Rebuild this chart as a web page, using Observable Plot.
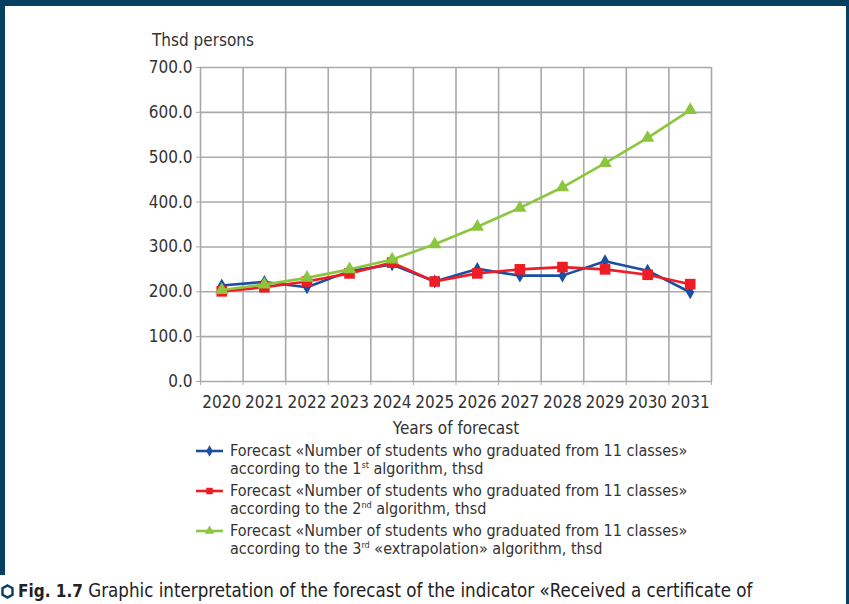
<!DOCTYPE html>
<html>
<head>
<meta charset="utf-8">
<script src="https://cdn.jsdelivr.net/npm/d3@7"></script>
<script src="https://cdn.jsdelivr.net/npm/@observablehq/plot@0.6"></script>
<style>
  html, body { margin: 0; padding: 0; background: #fff; }
  body { width: 849px; height: 604px; position: relative; overflow: hidden;
         font-family: "DejaVu Sans Condensed", "Liberation Sans Narrow", "Roboto Condensed", sans-serif;
         font-stretch: condensed; color: #333; }
  .frame-top { position: absolute; left: 0; top: 0; width: 849px; height: 6px; background: #073f61; }
  .frame-left { position: absolute; left: 0; top: 0; width: 5px; height: 575px; background: #073f61; }
  .frame-right { position: absolute; left: 846px; top: 0; width: 3px; height: 604px; background: #073f61; }
  #chart { position: absolute; left: 0; top: 0; }
  .lab { position: absolute; font-size: 17px; color: #333; white-space: nowrap; }
  #legend { position: absolute; left: 195px; top: 442px; font-size: 16px; color: #333; }
  .item { position: relative; padding-left: 35px; line-height: 18px; margin-bottom: 4px; }
  .item svg { position: absolute; left: 0; top: 1px; }
  .item sup { font-size: 9px; vertical-align: 6px; line-height: 0; }
  #caption { position: absolute; left: 1px; top: 580px; font-size: 18.6px; color: #222; white-space: nowrap; }
  #caption b { font-size: 17px; }
  #caption svg { vertical-align: -2px; margin-right: 4px; }
</style>
</head>
<body>
<div class="frame-top"></div>
<div class="frame-left"></div>
<div class="frame-right"></div>
<div id="chart"></div>
<div class="lab" style="left:152px; top:30px;">Thsd persons</div>
<div class="lab" id="xlab" style="left:456px; top:418px; transform: translateX(-50%);">Years of forecast</div>
<div id="legend"></div>
<div id="caption"><svg width="13" height="15" viewBox="0 0 13 15"><polygon points="6.5,1.5 11.5,4.3 11.5,10.7 6.5,13.5 1.5,10.7 1.5,4.3" fill="none" stroke="#073f61" stroke-width="2.4"/></svg><b>Fig. 1.7</b> Graphic interpretation of the forecast of the indicator «Received a certificate of</div>
<script>
// ---- data ----
const years = [2020, 2021, 2022, 2023, 2024, 2025, 2026, 2027, 2028, 2029, 2030, 2031];
const alg1 = [214, 222, 210, 246, 261, 223, 251, 236, 236, 268, 247, 199];
const alg2 = [201, 210, 223, 241, 265, 223, 241, 250, 255, 250, 238, 217];
const alg3 = [204, 216, 231, 250, 272, 306, 345, 387, 433, 487, 543, 605];
const yTicks = [0, 100, 200, 300, 400, 500, 600, 700];
const seriesNames = ["alg1", "alg2", "alg3"];
const seriesColors = ["#1b4f9f", "#ee1d25", "#8cc63f"];
const seriesSymbols = ["diamond", "square", "triangle"];
const legendLines = [
  ["Forecast «Number of students who graduated from 11 classes»", "according to the 1<sup>st</sup> algorithm, thsd"],
  ["Forecast «Number of students who graduated from 11 classes»", "according to the 2<sup>nd</sup> algorithm, thsd"],
  ["Forecast «Number of students who graduated from 11 classes»", "according to the 3<sup>rd</sup> «extrapolation» algorithm, thsd"]
];

const seriesValues = [alg1, alg2, alg3];
const rows = [];
seriesValues.forEach((vals, i) => vals.forEach((v, j) => rows.push({series: seriesNames[i], year: years[j], value: v})));
const bounds = years.map(y => y - 0.5).concat([years[years.length - 1] + 0.5]);
const symR = {alg1: 4.2, alg2: 6.0, alg3: 5.0};

const marks = [
  Plot.gridY(yTicks, {stroke: "#a9a9ab", strokeOpacity: 1, strokeWidth: 1.6}),
  Plot.ruleX(bounds, {stroke: "#a9a9ab", strokeWidth: 1.6}),
  Plot.axisY({ticks: yTicks, tickFormat: d => d.toFixed(1), tickSize: 4, tickPadding: 4, stroke: "#a9a9ab", fill: "#333", fontSize: 17, label: null}),
  Plot.axisX({ticks: bounds, tickFormat: () => "", tickSize: 4, stroke: "#a9a9ab", label: null}),
  Plot.axisX({ticks: years, tickFormat: d => String(d), tickSize: 0, tickPadding: 14, fill: "#333", fontSize: 17, label: null})
];
seriesNames.forEach((s, i) => {
  const data = rows.filter(r => r.series === s);
  marks.push(Plot.line(data, {x: "year", y: "value", stroke: seriesColors[i], strokeWidth: 2.6}));
  marks.push(Plot.dot(data, {x: "year", y: "value", symbol: seriesSymbols[i], fill: seriesColors[i], stroke: "none", r: symR[s]}));
});

const chart = Plot.plot({
  width: 849,
  height: 440,
  marginLeft: 200,
  marginRight: 138,
  marginTop: 67,
  marginBottom: 59,
  x: {type: "linear", domain: [bounds[0], bounds[bounds.length - 1]], axis: null},
  y: {domain: [0, 700], axis: null},
  style: {background: "transparent", fontFamily: "'DejaVu Sans Condensed', 'Liberation Sans Narrow', sans-serif", fontSize: "17px", color: "#333"},
  marks
});
document.getElementById("chart").appendChild(chart);

// legend
const legend = document.getElementById("legend");
legendLines.forEach((lines, i) => {
  const div = document.createElement("div");
  div.className = "item";
  const sym = d3.symbol(d3["symbol" + seriesSymbols[i][0].toUpperCase() + seriesSymbols[i].slice(1)], [38, 42, 40][i])();
  div.innerHTML = `<svg width="30" height="16"><line x1="1" x2="28" y1="8" y2="8" stroke="${seriesColors[i]}" stroke-width="2.6"/><path d="${sym}" transform="translate(14.5,8)" fill="${seriesColors[i]}"/></svg>${lines[0]}<br>${lines[1]}`;
  legend.appendChild(div);
});
</script>
</body>
</html>
